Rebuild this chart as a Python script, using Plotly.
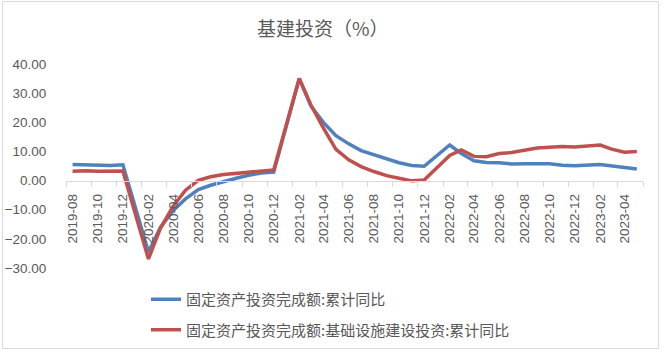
import plotly.graph_objects as go

months = ["2019-08", "2019-09", "2019-10", "2019-11", "2019-12",
          "2020-02", "2020-03", "2020-04", "2020-05", "2020-06", "2020-07", "2020-08", "2020-09", "2020-10", "2020-11", "2020-12",
          "2021-02", "2021-03", "2021-04", "2021-05", "2021-06", "2021-07", "2021-08", "2021-09", "2021-10", "2021-11", "2021-12",
          "2022-02", "2022-03", "2022-04", "2022-05", "2022-06", "2022-07", "2022-08", "2022-09", "2022-10", "2022-11", "2022-12",
          "2023-02", "2023-03", "2023-04", "2023-05"]

fai_total = [5.5, 5.4, 5.2, 5.2, 5.4,
             -24.5, -16.1, -10.3, -6.3, -3.1, -1.6, -0.3, 0.8, 1.8, 2.6, 2.9,
             35.0, 25.6, 19.9, 15.4, 12.6, 10.3, 8.9, 7.3, 6.1, 5.2, 4.9,
             12.2, 9.3, 6.8, 6.2, 6.1, 5.7, 5.8, 5.9, 5.8, 5.3, 5.1,
             5.5, 5.1, 4.7, 4.0]

fai_infra = [3.2, 3.4, 3.2, 3.4, 3.3,
             -26.9, -16.4, -8.8, -3.3, 0.1, 1.3, 2.1, 2.5, 3.0, 3.3, 3.6,
             35.0, 26.0, 17.9, 10.7, 7.1, 4.8, 3.1, 1.7, 0.8, -0.1, 0.2,
             8.6, 10.5, 8.3, 8.2, 9.3, 9.6, 10.4, 11.2, 11.4, 11.7, 11.5,
             12.2, 10.8, 9.7, 10.0]

tick_labels = ["2019-08", "2019-10", "2019-12", "2020-02", "2020-04", "2020-06", "2020-08", "2020-10", "2020-12",
               "2021-02", "2021-04", "2021-06", "2021-08", "2021-10", "2021-12",
               "2022-02", "2022-04", "2022-06", "2022-08", "2022-10", "2022-12", "2023-02", "2023-04"]

series_names = ["固定资产投资完成额:累计同比", "固定资产投资完成额:基础设施建设投资:累计同比"]
title_text = "基建投资（%）"

x_dates = [m + "-01" for m in months]
tick_vals = [m + "-01" for m in tick_labels]
# tick marks at slot boundaries (half a month before every labelled month, plus the end)
boundary_ticks = [m + "-16" for m in ["2019-07", "2019-09", "2019-11", "2020-01", "2020-03", "2020-05", "2020-07",
                                       "2020-09", "2020-11", "2021-01", "2021-03", "2021-05", "2021-07", "2021-09",
                                       "2021-11", "2022-01", "2022-03", "2022-05", "2022-07", "2022-09", "2022-11",
                                       "2023-01", "2023-03", "2023-05"]]

W, H = 664, 352
L, R, T, B = 66, 21, 64, 84
pw, ph = W - L - R, H - T - B

ymin, ymax = -30, 40
zero_pos = (0 - ymin) / (ymax - ymin)

grey = "#595959"
cjk = "Noto Sans CJK SC"
latin = "Liberation Sans, Arial, sans-serif"

fig = go.Figure()
fig.add_trace(go.Scatter(x=x_dates, y=fai_total, mode="lines", name=series_names[0],
                         line=dict(color="#4F81BD", width=3.5), legendgroup="a"))
fig.add_trace(go.Scatter(x=x_dates, y=fai_infra, mode="lines", name=series_names[1],
                         line=dict(color="#C0504D", width=3.5), legendgroup="b"))

def px2paper_x(px):
    return (px - L) / pw

def py2paper_y(py):
    return (H - B - py) / ph

fig.add_shape(type="rect", xref="paper", yref="paper",
              x0=px2paper_x(2.5), x1=px2paper_x(658.5), y0=py2paper_y(348.5), y1=py2paper_y(1.5),
              line=dict(color="#d9d9d9", width=1), fillcolor="rgba(0,0,0,0)", layer="below")

fig.update_layout(
    width=W, height=H,
    margin=dict(l=L, r=R, t=T, b=B, autoexpand=False),
    paper_bgcolor="white", plot_bgcolor="white",
    title=dict(text=title_text, x=257 / W, xanchor="left", y=1 - 29 / H, yanchor="middle",
               xref="container", yref="container",
               font=dict(family=cjk, size=19, color=grey)),
    showlegend=True,
    legend=dict(orientation="v", x=146 / W, xref="container", xanchor="left",
                y=1 - 283 / H, yref="container", yanchor="top",
                font=dict(family=cjk, size=15, color=grey), tracegroupgap=8,
                bgcolor="rgba(0,0,0,0)"),
    xaxis=dict(type="date", range=["2019-07-16", "2023-05-16"],
               anchor="free", position=zero_pos, automargin=False,
               tickmode="array", tickvals=tick_vals, ticktext=tick_labels,
               tickangle=-90, ticks="outside", ticklen=7, tickcolor="rgba(0,0,0,0)",
               tickfont=dict(family=latin, size=13.5, color=grey),
               showline=True, linecolor="#d9d9d9", linewidth=1,
               showgrid=False, zeroline=False,
               minor=dict(tickmode="array", tickvals=boundary_ticks, ticks="outside", ticklen=5,
                          tickcolor="#d9d9d9", tickwidth=1, showgrid=False)),
    yaxis=dict(range=[ymin, ymax], dtick=10, tick0=0, tickformat=".2f", automargin=False,
               showgrid=False, zeroline=False, showline=False,
               ticks="outside", ticklen=16, tickcolor="rgba(0,0,0,0)",
               tickfont=dict(family=latin, size=13.5, color=grey)),
)

fig.write_html("out.html")
